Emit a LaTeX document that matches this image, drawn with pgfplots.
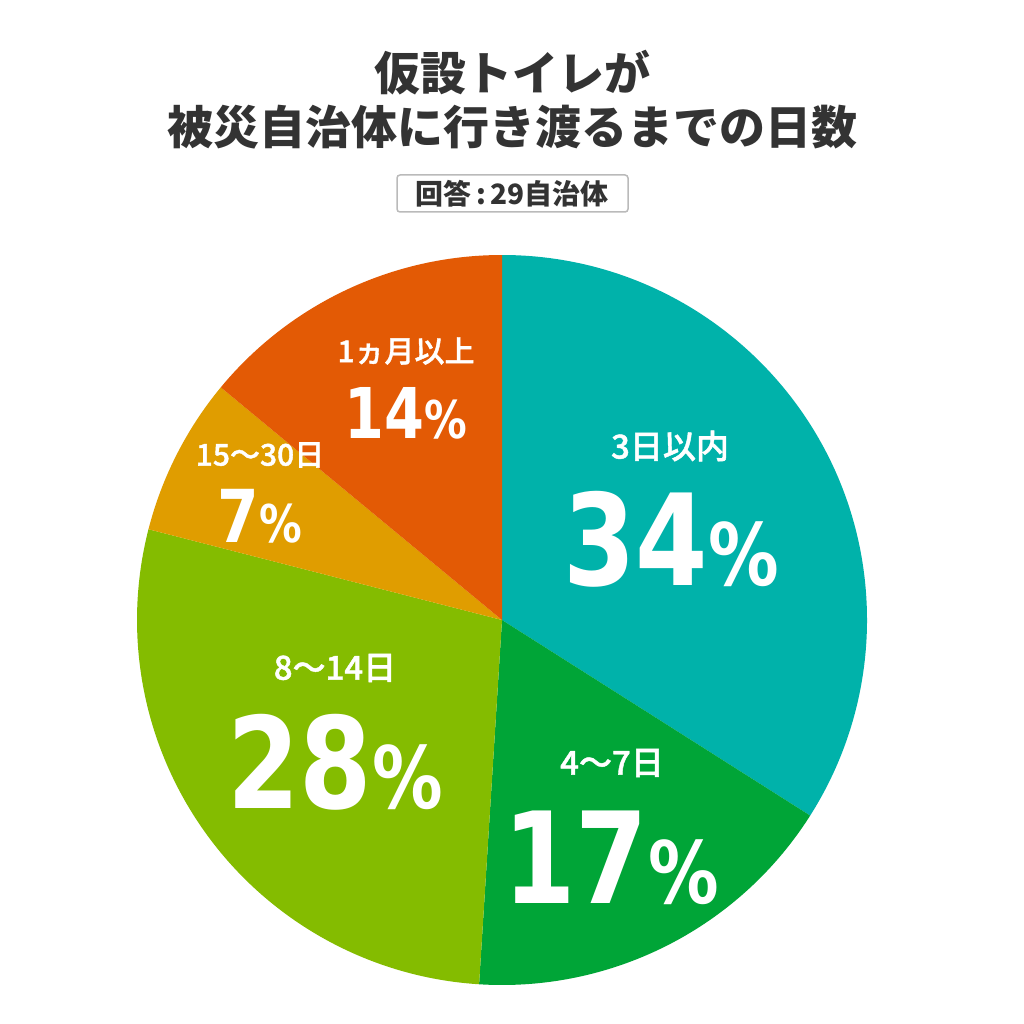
\documentclass[border=0pt]{standalone}
\usepackage{pgfplots}
\pgfplotsset{compat=1.18}
\usepackage{fontspec}
\setmainfont{Noto Sans CJK JP}
\newfontfamily\jpm[FakeBold=1.3]{Noto Sans CJK JP Medium}
\newfontfamily\num[FakeStretch=0.82]{DejaVu Sans}

\definecolor{cteal}{HTML}{00B2AA}
\definecolor{cgreen}{HTML}{00A537}
\definecolor{clime}{HTML}{84BC00}
\definecolor{cyellow}{HTML}{E09D00}
\definecolor{corange}{HTML}{E35A05}
\definecolor{ctext}{HTML}{333333}

% pie centre and radius in pixel units (1 unit = 1pt)
\newcommand\cx{502}
\newcommand\cy{620}
\newcommand\rr{365}
% \slice{cumulative % before}{share %}{colour}
\newcommand\slice[3]{%
  \fill[#3] (axis cs:\cx,\cy) -- ++({90-3.6*#1}:\rr pt)
    arc[start angle={90-3.6*#1}, end angle={90-3.6*(#1+#2)}, radius=\rr pt] -- cycle;}

\begin{document}
\begin{tikzpicture}
\begin{axis}[
    width=1024pt, height=1024pt, scale only axis,
    xmin=0, xmax=1024, ymin=0, ymax=1024,
    y dir=reverse, hide axis, clip=false]
  \fill[white] (axis cs:0,0) rectangle (axis cs:1024,1024);

  % shares in percent, clockwise from the top
  \slice{0}{34}{cteal}
  \slice{34}{17}{cgreen}
  \slice{51}{28}{clime}
  \slice{79}{7}{cyellow}
  \slice{86}{14}{corange}

  % title
  \node[text=ctext, font=\bfseries\fontsize{46}{50}\selectfont] at (axis cs:512,73) {仮設トイレが};
  \node[text=ctext, font=\bfseries\fontsize{46}{50}\selectfont] at (axis cs:512,127) {被災自治体に行き渡るまでの日数};
  \draw[draw=black!27, line width=1.5pt, fill=white, rounded corners=3pt]
    (axis cs:397,175) rectangle (axis cs:628,212);
  \node[text=ctext, font=\bfseries\fontsize{28}{30}\selectfont] at (axis cs:512,194) {回答\,:\,29自治体};

  % labels
  \begin{scope}[every node/.style={text=white}]
  \node[font=\jpm\fontsize{33}{36}\selectfont] at (axis cs:670,446) {3日以内};
  \node[anchor=base] at (axis cs:671,585) {\num\bfseries\fontsize{127}{127}\selectfont 34\fontsize{86}{86}\selectfont\%};

  \node[font=\jpm\fontsize{33}{36}\selectfont] at (axis cs:612,763) {4～7日};
  \node[anchor=base] at (axis cs:611,903) {\num\bfseries\fontsize{127}{127}\selectfont 17\fontsize{86}{86}\selectfont\%};

  \node[font=\jpm\fontsize{33}{36}\selectfont] at (axis cs:335,668) {8～14日};
  \node[anchor=base] at (axis cs:335,808) {\num\bfseries\fontsize{127}{127}\selectfont 28\fontsize{86}{86}\selectfont\%};

  \node[font=\jpm\fontsize{30}{33}\selectfont] at (axis cs:260,455) {15～30日};
  \node[anchor=base] at (axis cs:260,542) {\num\bfseries\fontsize{73}{73}\selectfont 7\fontsize{52}{52}\selectfont\%};

  \node[font=\jpm\fontsize{30}{33}\selectfont] at (axis cs:406,351) {1ヵ月以上};
  \node[anchor=base] at (axis cs:406,438) {\num\bfseries\fontsize{70}{70}\selectfont 14\fontsize{52}{52}\selectfont\%};
  \end{scope}
\end{axis}
\end{tikzpicture}
\end{document}
